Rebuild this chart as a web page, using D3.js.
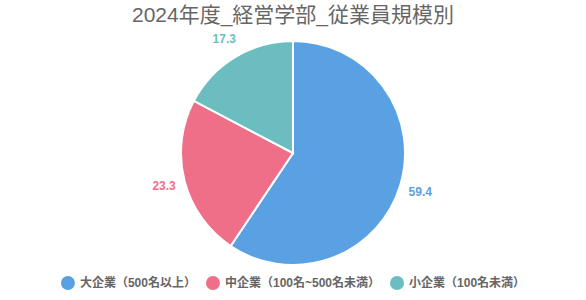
<!DOCTYPE html>
<html>
<head>
<meta charset="utf-8">
<script src="https://cdn.jsdelivr.net/npm/d3@7"></script>
<style>
  body { margin: 0; background: #fff; }
  svg { font-family: "Liberation Sans", "Noto Sans CJK JP", sans-serif; }
</style>
</head>
<body>
<div class="vis-pie"></div>
<script>
const categories = ["大企業（500名以上）", "中企業（100名~500名未満）", "小企業（100名未満）"];
const values = [59.4, 23.3, 17.3];
const colors = ["#5aa1e3", "#ef6f88", "#6cbdbf"];
const title = "2024年度_経営学部_従業員規模別";

const width = 586, height = 300;
const cx = 293, cy = 153, radius = 112;

let data = categories.map((c, i) => ({ name: c, value: values[i], color: colors[i] }));

let svg = d3.select(".vis-pie")
    .append("svg")
    .attr("width", width)
    .attr("height", height);

// title
svg.append("text")
    .attr("x", width / 2)
    .attr("y", 22)
    .attr("text-anchor", "middle")
    .attr("fill", "#666")
    .attr("font-size", 21)
    .text(title);

let pie = d3.pie().sort(null).value(d => d.value);
let arc = d3.arc().innerRadius(0).outerRadius(radius);
let labelArc = d3.arc().innerRadius(radius + 21).outerRadius(radius + 21);

let g = svg.append("g").attr("transform", "translate(" + cx + "," + cy + ")");
let arcs = pie(data);

g.selectAll("path")
    .data(arcs)
    .enter().append("path")
    .attr("d", arc)
    .attr("fill", d => d.data.color)
    .attr("stroke", "#fff")
    .attr("stroke-width", 2);

g.selectAll("text.val")
    .data(arcs)
    .enter().append("text")
    .attr("class", "val")
    .attr("transform", d => "translate(" + labelArc.centroid(d) + ")")
    .attr("text-anchor", "middle")
    .attr("dy", "0.35em")
    .attr("font-size", 12)
    .attr("font-weight", "bold")
    .attr("fill", d => d.data.color)
    .text(d => d.data.value.toFixed(1));

// legend, centered row
let legend = svg.append("g").attr("transform", "translate(0,283)");
let items = legend.selectAll("g")
    .data(data)
    .enter().append("g");
items.append("circle")
    .attr("r", 7)
    .attr("fill", d => d.color);
items.append("text")
    .attr("x", 12)
    .attr("dy", "0.35em")
    .attr("font-size", 12)
    .attr("font-weight", "bold")
    .attr("fill", "#666")
    .text(d => d.name);

let widths = [];
items.each(function () {
    widths.push(14 + 5 + d3.select(this).select("text").node().getComputedTextLength());
});
let gap = 10;
let total = d3.sum(widths) + gap * (widths.length - 1);
let xPos = (width - total) / 2 + 7;
items.attr("transform", (d, i) => {
    let t = "translate(" + xPos + ",0)";
    xPos += widths[i] + gap;
    return t;
});
</script>
</body>
</html>
